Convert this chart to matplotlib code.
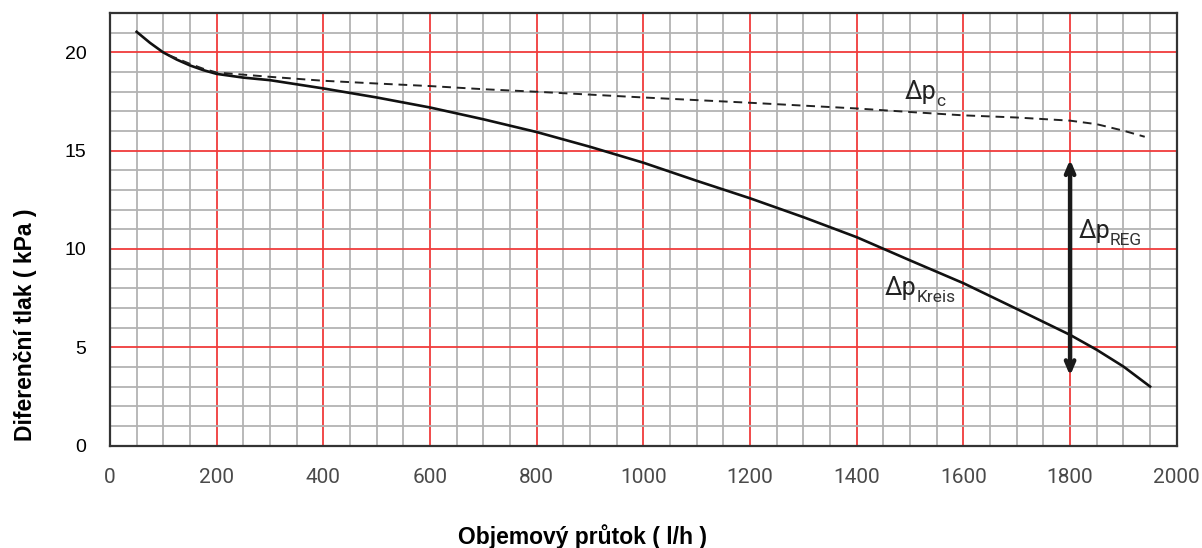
import matplotlib
matplotlib.use('Agg')
import matplotlib.pyplot as plt
from matplotlib.ticker import MultipleLocator

# Δp_Kreis (solid) and Δp_c (dashed)
kreis_flow = [50, 75, 100, 125, 150, 175, 200, 250, 300, 400, 500, 600, 700, 800, 900, 1000,
              1100, 1200, 1300, 1400, 1500, 1600, 1700, 1800, 1850, 1900, 1950]
kreis_dp = [21.05, 20.49, 20.0, 19.64, 19.34, 19.1, 18.91, 18.72, 18.59, 18.17, 17.71, 17.2, 16.6, 15.95,
            15.2, 14.39, 13.47, 12.58, 11.62, 10.6, 9.42, 8.26, 6.95, 5.63, 4.87, 4.02, 3.0]

c_flow = [110, 125, 150, 175, 200, 300, 400, 500, 600, 700, 800, 1000, 1200, 1400, 1500, 1600,
          1700, 1800, 1850, 1900, 1940]
c_dp = [19.86, 19.7, 19.42, 19.17, 18.98, 18.76, 18.56, 18.42, 18.29, 18.13, 18.0, 17.71, 17.44, 17.15,
        16.97, 16.8, 16.69, 16.53, 16.35, 16.02, 15.71]

# Δp_REG arrow
reg_flow = 1800
reg_low, reg_high = 3.55, 14.55

x_ticks = [0, 200, 400, 600, 800, 1000, 1200, 1400, 1600, 1800, 2000]
y_ticks = [0, 5, 10, 15, 20]

fig = plt.figure(figsize=(12.02, 5.48), dpi=100)
ax = fig.add_axes([0.0915, 0.187, 0.8875, 0.789])

ax.set_xlim(0, 2000)
ax.set_ylim(0, 22)
ax.xaxis.set_major_locator(MultipleLocator(200))
ax.xaxis.set_minor_locator(MultipleLocator(50))
ax.yaxis.set_major_locator(MultipleLocator(5))
ax.yaxis.set_minor_locator(MultipleLocator(1))
ax.set_xticks(x_ticks)
ax.set_yticks(y_ticks)

ax.grid(which='minor', color='#b3b3b3', lw=1.3)
ax.grid(which='major', color='#f03c3c', lw=1.3)
ax.set_axisbelow(True)

for s in ax.spines.values():
    s.set_color('#333333')
    s.set_linewidth(1.6)

ax.tick_params(which='both', length=0)
ax.tick_params(axis='x', pad=16, labelsize=15, labelcolor='#4a4a4a')
ax.tick_params(axis='y', pad=17, labelsize=14, labelcolor='black')
for lab in ax.get_xticklabels():
    lab.set_family(['Roboto', 'DejaVu Sans'])
for lab in ax.get_yticklabels():
    lab.set_family(['Liberation Sans', 'DejaVu Sans'])

ax.plot(kreis_flow, kreis_dp, color='#111111', lw=1.9, zorder=3)
ax.plot(c_flow, c_dp, color='#222222', lw=1.4, ls=(0, (4.5, 3)), zorder=3)

ax.annotate('', xy=(reg_flow, reg_high), xytext=(reg_flow, reg_low),
            arrowprops=dict(arrowstyle='<->,head_length=0.7,head_width=0.3',
                            lw=3.2, color='#1a1a1a', shrinkA=0, shrinkB=0), zorder=4)

def dp_label(x, y, sub):
    ax.text(x, y, 'Δp', fontsize=18, color='#222222', family=['Roboto', 'DejaVu Sans'],
            ha='left', va='baseline', zorder=5)
    ax.annotate(sub, xy=(x, y), xytext=(22.5, -5), textcoords='offset points',
                fontsize=12.5, color='#333333', family=['Roboto', 'DejaVu Sans'],
                ha='left', va='baseline', zorder=5)

dp_label(1490, 17.65, 'c')
dp_label(1816, 10.54, 'REG')
dp_label(1453, 7.66, 'Kreis')

fig.text(0.485, 0.02, 'Objemový průtok ( l/h )', fontsize=16.5, fontweight='bold',
         family=['Liberation Sans', 'DejaVu Sans'], ha='center', va='center')
fig.text(0.021, 0.407, 'Diferenční tlak ( kPa )', fontsize=16.5, fontweight='bold',
         family=['Liberation Sans', 'DejaVu Sans'], ha='center', va='center', rotation=90)

fig.savefig('out.png', dpi=100)
